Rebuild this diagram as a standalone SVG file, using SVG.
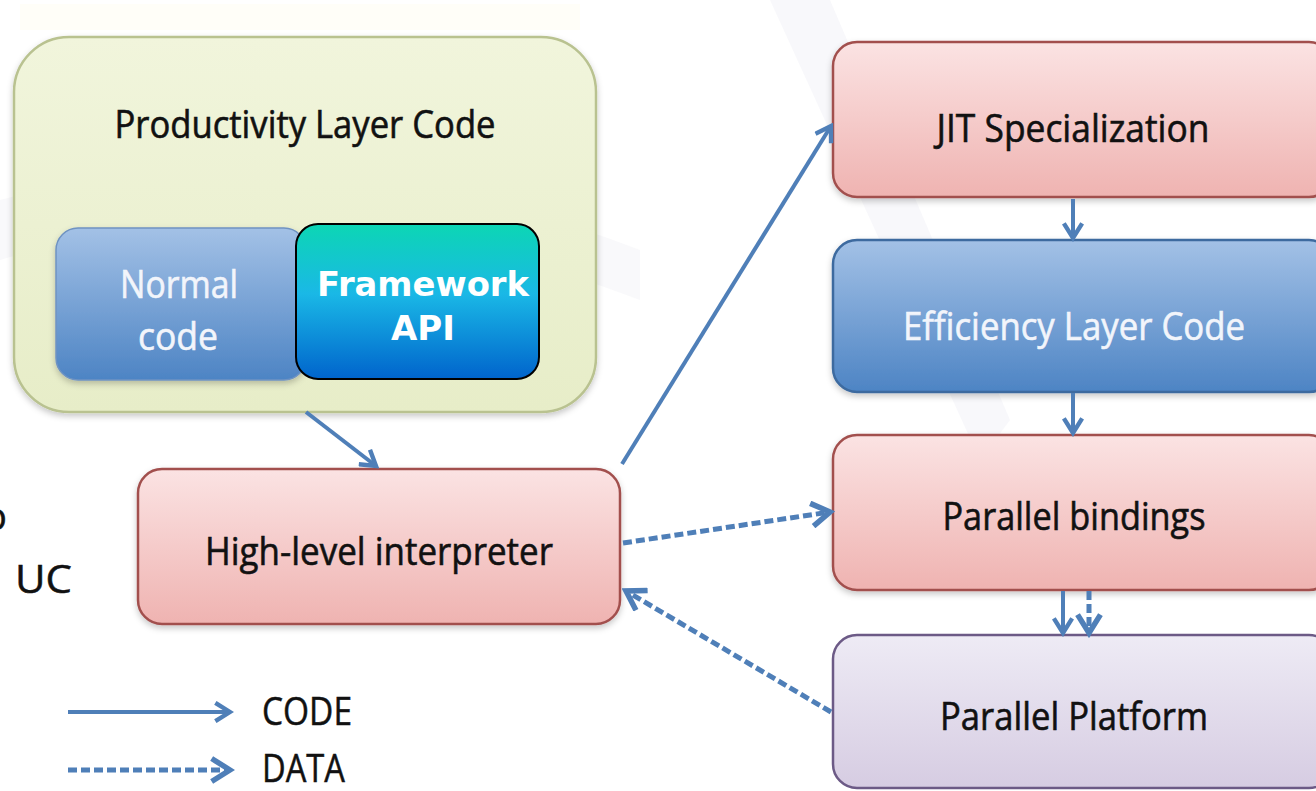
<svg xmlns="http://www.w3.org/2000/svg" width="1316" height="791" viewBox="0 0 1316 791">
  <defs>
    <linearGradient id="gGreen" x1="0" y1="0" x2="0" y2="1">
      <stop offset="0" stop-color="#f1f5dc"/>
      <stop offset="1" stop-color="#e7edc8"/>
    </linearGradient>
    <linearGradient id="gPink" x1="0" y1="0" x2="0" y2="1">
      <stop offset="0" stop-color="#fbe3e3"/>
      <stop offset="1" stop-color="#efb3b1"/>
    </linearGradient>
    <linearGradient id="gBlue" x1="0" y1="0" x2="0" y2="1">
      <stop offset="0" stop-color="#a3c1e6"/>
      <stop offset="1" stop-color="#4d84c4"/>
    </linearGradient>
    <linearGradient id="gLav" x1="0" y1="0" x2="0" y2="1">
      <stop offset="0" stop-color="#eeebf5"/>
      <stop offset="1" stop-color="#d6cce2"/>
    </linearGradient>
    <linearGradient id="gTeal" x1="0" y1="0" x2="0" y2="1">
      <stop offset="0" stop-color="#0cd6b4"/>
      <stop offset="0.45" stop-color="#1ab8e6"/>
      <stop offset="1" stop-color="#0064cc"/>
    </linearGradient>
    <filter id="soft" x="-10%" y="-10%" width="120%" height="130%">
      <feDropShadow dx="0" dy="3" stdDeviation="3" flood-color="#000" flood-opacity="0.22"/>
    </filter>
    <marker id="head" viewBox="0 0 12 12" refX="10" refY="6" markerWidth="5.5" markerHeight="5.5" orient="auto" markerUnits="strokeWidth">
      <path d="M2,1 L10,6 L2,11" fill="none" stroke="#4f7fb8" stroke-width="2.4" stroke-linejoin="miter"/>
    </marker>
    <style>
      .lbl { font-family: "Open Sans", "Noto Sans", sans-serif; font-size: 38px; fill: #111; stroke: #111; stroke-width: 0.6px; text-anchor: middle; }
      .wlbl { font-family: "Open Sans", "Noto Sans", sans-serif; font-size: 38px; fill: #f2f5fb; stroke: #f2f5fb; stroke-width: 0.6px; text-anchor: middle; }
      .bold { font-family: "DejaVu Sans", Verdana, sans-serif; font-weight: bold; font-size: 34px; fill: #fff; text-anchor: middle; }
      .plain { font-family: "Open Sans", "Noto Sans", sans-serif; font-size: 38px; fill: #111; stroke: #111; stroke-width: 0.5px; }
      .code { fill: none; stroke: #4f7fb8; stroke-width: 4; marker-end: url(#head); }
      .data { fill: none; stroke: #4f7fb8; stroke-width: 5; stroke-dasharray: 9 4; marker-end: url(#head); }
    </style>
  </defs>

  <!-- slide background -->
  <rect x="0" y="0" width="1316" height="791" fill="#ffffff"/>
  <path d="M770,0 L830,0 L1010,420 L980,460 Z" fill="#f3f3f7" opacity="0.55"/>
  <path d="M0,200 Q300,120 640,250 L640,300 Q300,170 0,260 Z" fill="#f4f4f7" opacity="0.5"/>
  <rect x="20" y="4" width="560" height="26" fill="#fffdf3" opacity="0.6"/>

  <!-- stray slide text at the left edge -->
  <text class="plain" x="-16" y="530" font-size="42">o</text>
  <text class="plain" x="15" y="593" font-size="42" textLength="57" lengthAdjust="spacingAndGlyphs">UC</text>

  <g id="productivity">
    <rect x="14" y="37" width="582" height="375" rx="55" fill="url(#gGreen)" stroke="#b9c290" stroke-width="2.5" filter="url(#soft)"/>
    <text class="lbl" x="305" y="138" textLength="381" lengthAdjust="spacingAndGlyphs">Productivity Layer Code</text>
  </g>

  <g id="normal-code">
    <rect x="56" y="228" width="250" height="152" rx="22" fill="url(#gBlue)" stroke="#6f93c2" stroke-width="1.5" filter="url(#soft)"/>
    <text class="wlbl" x="179" y="298" textLength="118" lengthAdjust="spacingAndGlyphs">Normal</text>
    <text class="wlbl" x="178" y="350" textLength="80" lengthAdjust="spacingAndGlyphs">code</text>
  </g>

  <g id="framework-api">
    <rect x="296" y="224" width="243" height="155" rx="22" fill="url(#gTeal)" stroke="#000" stroke-width="2"/>
    <text class="bold" x="423" y="296" textLength="212" lengthAdjust="spacingAndGlyphs">Framework</text>
    <text class="bold" x="423" y="340">API</text>
  </g>

  <g id="interpreter">
    <rect x="138" y="469" width="482" height="155" rx="24" fill="url(#gPink)" stroke="#a2504e" stroke-width="2.5" filter="url(#soft)"/>
    <text class="lbl" x="379" y="565" textLength="348" lengthAdjust="spacingAndGlyphs">High-level interpreter</text>
  </g>

  <g id="jit">
    <rect x="833" y="42" width="500" height="155" rx="24" fill="url(#gPink)" stroke="#a2504e" stroke-width="2.5" filter="url(#soft)"/>
    <text class="lbl" x="1073" y="142" textLength="273" lengthAdjust="spacingAndGlyphs">JIT Specialization</text>
  </g>

  <g id="efficiency">
    <rect x="833" y="240" width="500" height="152" rx="24" fill="url(#gBlue)" stroke="#3c6a9f" stroke-width="2.5" filter="url(#soft)"/>
    <text class="wlbl" x="1074" y="340" textLength="342" lengthAdjust="spacingAndGlyphs">Efficiency Layer Code</text>
  </g>

  <g id="bindings">
    <rect x="833" y="435" width="500" height="155" rx="24" fill="url(#gPink)" stroke="#a2504e" stroke-width="2.5" filter="url(#soft)"/>
    <text class="lbl" x="1074" y="530" textLength="263" lengthAdjust="spacingAndGlyphs">Parallel bindings</text>
  </g>

  <g id="platform">
    <rect x="833" y="635" width="500" height="153" rx="24" fill="url(#gLav)" stroke="#6c5a86" stroke-width="2.5"/>
    <text class="lbl" x="1074" y="730" textLength="268" lengthAdjust="spacingAndGlyphs">Parallel Platform</text>
  </g>

  <g id="connectors">
    <line class="code" x1="306" y1="412" x2="376" y2="466"/>
    <line class="code" x1="622" y1="464" x2="831" y2="126"/>
    <line class="code" x1="1073" y1="199" x2="1073" y2="238"/>
    <line class="code" x1="1073" y1="393" x2="1073" y2="433"/>
    <line class="code" x1="1063" y1="591" x2="1063" y2="633"/>
    <line class="data" x1="1089" y1="591" x2="1089" y2="633"/>
    <line class="data" x1="623" y1="543" x2="830" y2="512"/>
    <line class="data" x1="831" y1="712" x2="626" y2="591"/>
  </g>

  <g id="legend">
    <line class="code" x1="68" y1="712" x2="230" y2="712"/>
    <line class="data" x1="68" y1="770" x2="230" y2="770"/>
    <text class="plain" x="262" y="725" textLength="90" lengthAdjust="spacingAndGlyphs">CODE</text>
    <text class="plain" x="262" y="782" textLength="83" lengthAdjust="spacingAndGlyphs">DATA</text>
  </g>
</svg>
